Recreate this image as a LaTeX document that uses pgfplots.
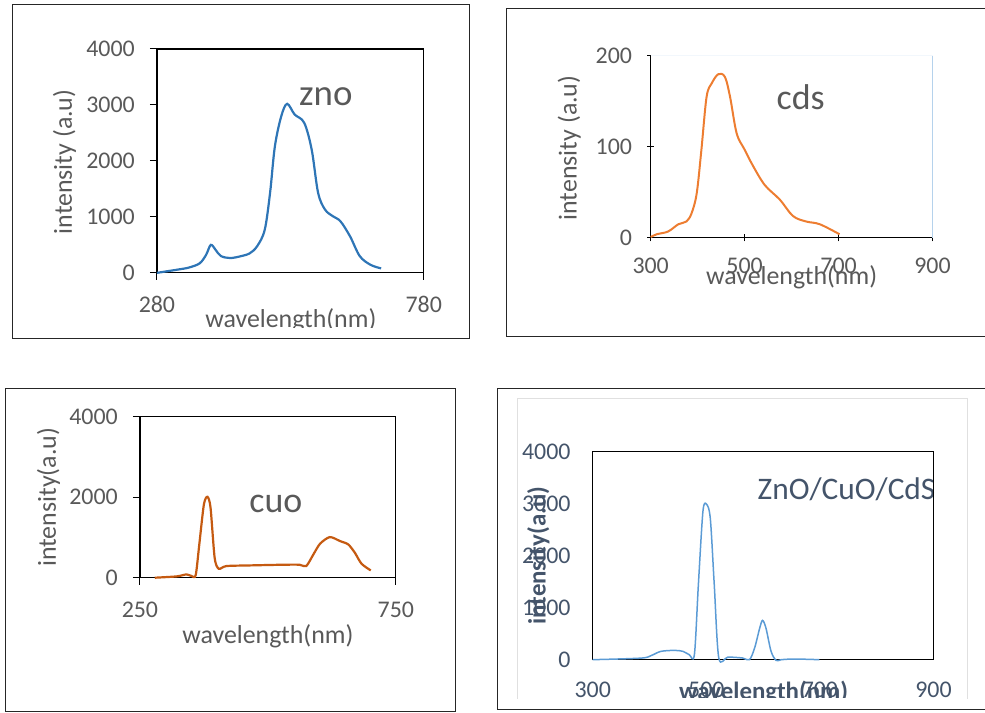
\documentclass[border=0pt]{standalone}
\usepackage{pgfplots}
\pgfplotsset{compat=1.18}
\usepackage{fontspec}
\setmainfont{Carlito}
\newcommand{\fs}[1]{\fontsize{#1}{#1}\selectfont}
\definecolor{txtgray}{HTML}{595959}
\definecolor{slate}{HTML}{44546A}
\definecolor{znoblue}{HTML}{2E75B6}
\definecolor{cdsorange}{HTML}{ED7D31}
\definecolor{cuoorange}{HTML}{C55A11}
\definecolor{mixblue}{HTML}{5B9BD5}
\pgfplotsset{
  panel/.style={scale only axis, anchor=south west, clip=false,
    tick align=outside, major tick length=7bp,
    every tick/.style={black, line width=1bp},
    axis line style={black, line width=1.2bp},
    ticklabel style={font=\fs{24}, text=txtgray, inner sep=0pt},
    /pgf/number format/1000 sep={}, /pgf/number format/assume math mode=true,
    xtick pos=bottom, ytick pos=left,
  }
}
\begin{document}
\begin{tikzpicture}
\begin{scope}[x=1bp,y=-1bp]
\path (0,0) rectangle (985,713);
\draw[line width=1bp, black!85] (13,5) rectangle (470,339);
\draw[line width=1bp, black!85] (985,9) -- (507,9) -- (507,337) -- (985,337);
\draw[line width=1bp, black!85] (6,389) rectangle (456,712);
\draw[line width=1bp, black!85] (985,389) -- (498,389) -- (498,710) -- (985,710);
\draw[line width=0.8bp, black!12] (518,699) -- (518,399) -- (968,399) -- (968,699);
% labels
\begin{scope}
\clip (14,6) rectangle (469,328);
\node[anchor=base, text=txtgray, font=\fs{26}] at (291,327.5) {wavelength(nm)};
\end{scope}
\node[anchor=base, rotate=90, text=txtgray, font=\fs{26}] at (72,162) {intensity (a.u)};
\node[anchor=base, text=txtgray, font=\fs{37}] at (326,106) {zno};
\node[anchor=base, text=txtgray, font=\fs{26}] at (792,285) {wavelength(nm)};
\node[anchor=base, rotate=90, text=txtgray, font=\fs{26}] at (577,148) {intensity (a.u)};
\node[anchor=base, text=txtgray, font=\fs{36}] at (801,110) {cds};
\node[anchor=base, text=txtgray, font=\fs{26}] at (268,644) {wavelength(nm)};
\node[anchor=base, rotate=90, text=txtgray, font=\fs{26}] at (56,497.5) {intensity(a.u)};
\node[anchor=base, text=txtgray, font=\fs{36}] at (276,513) {cuo};
\node[anchor=base, text=slate, font=\fs{31.5}] at (847,500) {ZnO/CuO/CdS};
\end{scope}

% Panel 1: zno
\begin{axis}[panel, at={(157bp,-273bp)}, width=267bp, height=224bp,
  xmin=280, xmax=780, ymin=0, ymax=4000, xtick={280,780},
  ytick={0,1000,2000,3000,4000},
  yticklabel style={anchor=east, xshift=-15bp},
  xticklabel style={anchor=center, yshift=-24.5bp}]
\addplot[znoblue, line width=2.2bp, smooth, tension=0.55] coordinates {
(280,0) (300,30) (320,60) (340,95) (360,170) (372,320) (381,500) (390,410)
(400,300) (417,265) (436,295) (454,350) (468,480) (482,770) (492,1430)
(501,2260) (513,2800) (524,3020) (538,2830) (556,2680) (570,2200)
(582,1430) (595,1130) (610,1010) (624,920) (642,650) (660,300) (680,145) (700,80)};
\end{axis}

% Panel 2: cds
\begin{axis}[panel, at={(651bp,-238bp)}, width=282bp, height=182bp,
  xmin=300, xmax=900, ymin=0, ymax=200, xtick={300,500,700,900},
  ytick={0,100,200}, axis x line=bottom, axis y line=left,
  axis line style={-},
  yticklabel style={anchor=east, xshift=-15bp},
  xticklabel style={anchor=center, yshift=-24.5bp}]
\draw[color=mixblue!45, line width=1bp] (axis cs:900,0) -- (axis cs:900,200);
\draw[color=mixblue!8, line width=1bp] (axis cs:300,200) -- (axis cs:900,200);
\addplot[cdsorange, line width=2bp, smooth, tension=0.55] coordinates {
(300,1) (313,4) (337,7) (359,15) (376,18) (387,27) (398,49) (408,97)
(419,155) (430,170) (444,180) (458,177) (469,155) (483,115) (500,97)
(518,79) (543,58) (575,42) (603,24) (631,18) (660,15) (702,4)};
\end{axis}

% Panel 3: cuo
\begin{axis}[panel, at={(140bp,-578bp)}, width=256bp, height=161bp,
  xmin=250, xmax=750, ymin=0, ymax=4000, xtick={250,750},
  ytick={0,2000,4000},
  yticklabel style={anchor=east, xshift=-15bp},
  xticklabel style={anchor=center, yshift=-25.5bp}]
\addplot[cuoorange, line width=2.2bp, smooth, tension=0.45] coordinates {
(279,0) (322,33) (341,83) (351,41) (359,66) (366,828) (375,1822) (382,2012)
(388,1739) (396,497) (404,224) (419,290) (465,306) (530,323) (562,323)
(575,290) (589,580) (602,845) (621,1010) (641,911) (657,828) (670,621)
(683,348) (701,182)};
\end{axis}

% Panel 4: ZnO/CuO/CdS
\begin{axis}[panel, at={(593bp,-660bp)}, width=341bp, height=208bp,
  xmin=300, xmax=900, ymin=0, ymax=4000, xtick={300,500,700,900},
  ytick={0,1000,2000,3000,4000}, major tick length=0pt,
  ticklabel style={text=slate},
  yticklabel style={anchor=east, xshift=-22bp},
  xticklabel style={anchor=center, yshift=-30.5bp}]
\addplot[mixblue, line width=1.5bp, smooth, tension=0.5] coordinates {
(300,0) (385,30) (403,80) (420,160) (444,179) (459,160) (470,96) (479,96)
(486,1440) (494,2848) (500,2995) (507,2720) (514,1440) (522,32) (538,51)
(564,32) (576,0) (585,224) (594,608) (599,755) (605,608) (614,160)
(623,-15) (632,0) (655,13) (699,0)};
\end{axis}
\begin{scope}[x=1bp,y=-1bp]
\node[anchor=base, rotate=90, text=slate, font=\bfseries\fs{25}] at (546,556) {intensity(a.u)};
\begin{scope}
\clip (499,390) rectangle (984,698);
\node[anchor=base, text=slate, font=\bfseries\fs{25}] at (764,700) {wavelength(nm)};
\end{scope}
\end{scope}
\end{tikzpicture}
\end{document}
